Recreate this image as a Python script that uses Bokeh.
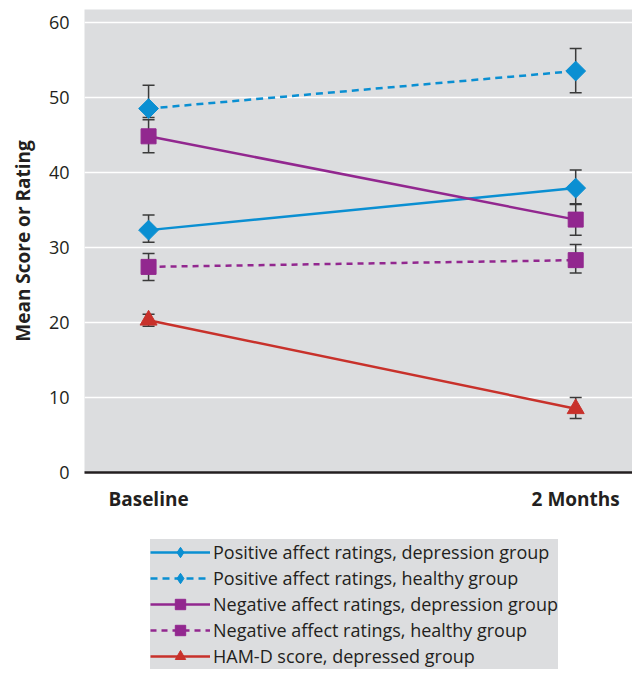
import math
from bokeh.plotting import figure
from bokeh.layouts import column
from bokeh.models import (ColumnDataSource, Whisker, TeeHead, Legend, LegendItem,
                          FixedTicker, Range1d)
from bokeh.embed import file_html
from bokeh.resources import INLINE

# ---- data ----
timepoints = ["Baseline", "2 Months"]

pos_dep = [32.3, 37.9]
pos_dep_lo = [30.7, 35.7]
pos_dep_hi = [34.3, 40.3]

pos_hea = [48.5, 53.5]
pos_hea_lo = [47.3, 50.6]
pos_hea_hi = [51.6, 56.5]

neg_dep = [44.8, 33.7]
neg_dep_lo = [42.6, 31.6]
neg_dep_hi = [47.0, 35.8]

neg_hea = [27.4, 28.3]
neg_hea_lo = [25.6, 26.6]
neg_hea_hi = [29.2, 30.4]

ham = [20.3, 8.5]
ham_lo = [19.5, 7.2]
ham_hi = [21.1, 10.0]

y_ticks = [0, 10, 20, 30, 40, 50, 60]

labels = ["Positive affect ratings, depression group",
          "Positive affect ratings, healthy group",
          "Negative affect ratings, depression group",
          "Negative affect ratings, healthy group",
          "HAM-D score, depressed group"]

BLUE = "#0a8fd2"
PURPLE = "#92278f"
RED = "#c8312b"
TXT = "#231f20"
BG = "#dcdddf"
FONT = "Open Sans"

xs = list(range(len(timepoints)))

p = figure(width=632, height=515, output_backend="svg", toolbar_location=None,
           x_range=Range1d(-0.15, 1.133), y_range=Range1d(0, 61.7),
           min_border_left=84, min_border_right=0, min_border_top=9,
           min_border_bottom=43)
p.background_fill_color = BG
p.border_fill_color = "white"
p.outline_line_color = None

p.xgrid.grid_line_color = None
p.ygrid.grid_line_color = "white"
p.ygrid.grid_line_width = 1.5
p.yaxis.ticker = FixedTicker(ticks=y_ticks)
p.xaxis.ticker = FixedTicker(ticks=xs)
p.xaxis.major_label_overrides = {i: t for i, t in enumerate(timepoints)}

for ax in (p.xaxis, p.yaxis):
    ax.major_tick_line_color = None
    ax.minor_tick_line_color = None
    ax.major_label_text_color = TXT
    ax.major_label_text_font = FONT
    ax.major_label_text_font_size = "18px"
p.yaxis.axis_line_color = None
p.xaxis.axis_line_color = "#231f20"
p.xaxis.axis_line_width = 2.5
p.xaxis.major_label_text_font_size = "19px"
p.xaxis.major_label_text_font_style = "bold"
p.xaxis.major_label_standoff = 7
p.yaxis.major_label_standoff = 9
p.yaxis.axis_label = "Mean Score or Rating"
p.yaxis.axis_label_text_font = FONT
p.yaxis.axis_label_text_font_size = "19px"
p.yaxis.axis_label_text_font_style = "bold"
p.yaxis.axis_label_text_color = TXT
p.yaxis.axis_label_standoff = 10

series = [
    (pos_dep, pos_dep_lo, pos_dep_hi, BLUE, "solid", "diamond"),
    (pos_hea, pos_hea_lo, pos_hea_hi, BLUE, "7 5", "diamond"),
    (neg_dep, neg_dep_lo, neg_dep_hi, PURPLE, "solid", "square"),
    (neg_hea, neg_hea_lo, neg_hea_hi, PURPLE, "6 5", "square"),
    (ham, ham_lo, ham_hi, RED, "solid", "triangle"),
]
main_marker = {"diamond": ("square", math.pi / 4, 14),
               "square": ("square", 0, 15),
               "triangle": ("triangle", 0, 17)}

# legend-only figure below the chart (its ranges keep its glyph copies off-frame)
lf = figure(width=632, height=160, output_backend="svg", toolbar_location=None,
            x_axis_type=None, y_axis_type=None,
            x_range=Range1d(100, 101), y_range=Range1d(100, 101),
            min_border_left=0, min_border_right=0, min_border_top=0,
            min_border_bottom=0)
lf.outline_line_color = None
lf.background_fill_color = "white"
lf.border_fill_color = "white"
lf.grid.visible = False

items = []
for (vals, lo, hi, col, dash, mk), lab in zip(series, labels):
    src = ColumnDataSource(dict(x=xs, y=vals, lo=lo, hi=hi))
    w = Whisker(source=src, base="x", lower="lo", upper="hi",
                line_color="#3a3a3a", line_width=1.5,
                upper_head=TeeHead(size=12, line_color="#3a3a3a", line_width=1.5),
                lower_head=TeeHead(size=12, line_color="#3a3a3a", line_width=1.5),
                level="underlay")
    p.add_layout(w)
    m, ang, sz = main_marker[mk]
    p.line("x", "y", source=src, line_color=col, line_width=2.5, line_dash=dash)
    p.scatter("x", "y", source=src, marker=m, angle=ang, size=sz,
              fill_color=col, line_color=col)

    ln = lf.line("x", "y", source=src, line_color=col, line_width=2.5, line_dash=dash)
    sc = lf.scatter("x", "y", source=src, marker=mk, size=15,
                    fill_color=col, line_color=col)
    items.append(LegendItem(label=lab, renderers=[ln, sc]))

legend = Legend(items=items, location=(66, 6),
                background_fill_color=BG, background_fill_alpha=1,
                border_line_color=None,
                glyph_width=60, glyph_height=26, spacing=0, padding=8,
                label_standoff=3, label_text_font=FONT,
                label_text_font_size="18px", label_text_color=TXT,
                label_height=20)
lf.add_layout(legend, "center")

layout = column(p, lf, spacing=0)
open("out.html", "w").write(file_html(layout, INLINE))
